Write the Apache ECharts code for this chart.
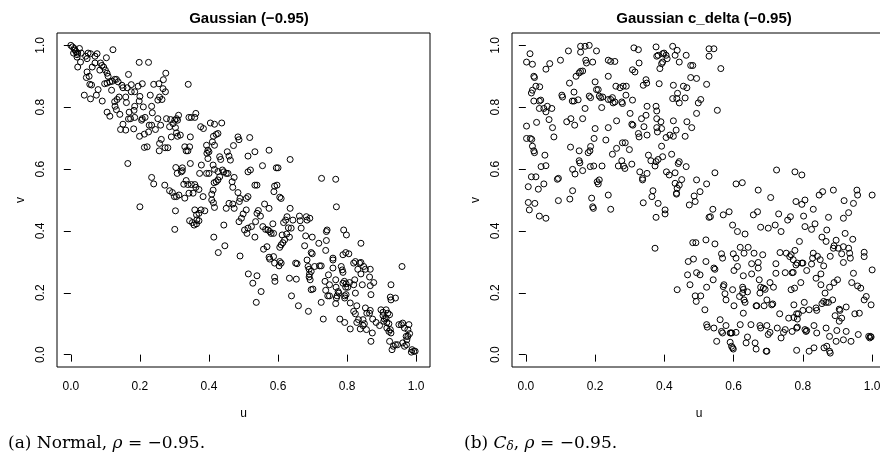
<!DOCTYPE html>
<html>
<head>
<meta charset="utf-8">
<script src="https://cdn.jsdelivr.net/npm/echarts@6/dist/echarts.min.js"></script>
<style>
html,body{margin:0;padding:0;background:#fff;}
#c{width:880px;height:452px;}
</style>
</head>
<body>
<div id="c"></div>
<script>
// ---------- DATA ----------
const titleLeft = "Gaussian (\u22120.95)";
const titleRight = "Gaussian c_delta (\u22120.95)";
const xName = "u";
const yName = "v";
const tickValues = [0, 0.2, 0.4, 0.6, 0.8, 1.0];

// Panel (a): Normal copula, rho = -0.95  [u, v]
const normalPoints = [
[0.0,1.0],[0.005,0.995],[0.01,0.99],[0.012,0.985],[0.015,0.98],[0.02,0.975],[0.025,0.99],[0.03,0.975],[0.008,0.975],[0.018,0.97],
[0.018,0.962],[0.028,0.946],[0.02,0.93],[0.043,0.965],[0.05,0.975],[0.057,0.973],[0.07,0.965],[0.076,0.973],[0.047,0.957],[0.122,0.986],
[0.103,0.96],[0.086,0.943],[0.09,0.935],[0.095,0.93],[0.084,0.92],[0.1,0.92],[0.07,0.943],[0.062,0.93],[0.047,0.914],[0.053,0.9],
[0.045,0.896],[0.055,0.874],[0.06,0.872],[0.105,0.91],[0.108,0.9],[0.198,0.945],[0.225,0.945],[0.167,0.906],[0.275,0.91],[0.268,0.889],
[0.098,0.876],[0.105,0.878],[0.113,0.882],[0.12,0.884],[0.127,0.89],[0.132,0.89],[0.137,0.882],[0.148,0.871],[0.151,0.863],[0.163,0.863],
[0.175,0.873],[0.195,0.868],[0.207,0.876],[0.24,0.874],[0.255,0.876],[0.34,0.874],[0.267,0.86],[0.274,0.85],[0.118,0.855],[0.175,0.85],
[0.185,0.85],[0.23,0.839],[0.257,0.833],[0.264,0.825],[0.252,0.823],[0.039,0.839],[0.057,0.827],[0.079,0.857],[0.074,0.839],[0.091,0.82],
[0.127,0.818],[0.134,0.825],[0.14,0.833],[0.159,0.833],[0.161,0.815],[0.2,0.835],[0.198,0.82],[0.128,0.803],[0.132,0.792],[0.142,0.777],
[0.169,0.784],[0.173,0.763],[0.167,0.762],[0.185,0.803],[0.183,0.79],[0.21,0.801],[0.234,0.803],[0.236,0.782],[0.105,0.784],[0.113,0.771],
[0.185,0.767],[0.182,0.73],[0.207,0.763],[0.215,0.767],[0.205,0.758],[0.227,0.742],[0.234,0.742],[0.252,0.763],[0.26,0.742],[0.277,0.763],
[0.289,0.76],[0.296,0.747],[0.151,0.745],[0.144,0.728],[0.159,0.726],[0.199,0.706],[0.213,0.713],[0.225,0.72],[0.245,0.728],[0.213,0.67],
[0.221,0.672],[0.262,0.696],[0.257,0.683],[0.256,0.659],[0.273,0.669],[0.281,0.669],[0.303,0.734],[0.306,0.717],[0.309,0.706],[0.286,0.737],
[0.291,0.704],[0.312,0.774],[0.306,0.763],[0.309,0.758],[0.317,0.71],[0.342,0.767],[0.349,0.767],[0.362,0.78],[0.359,0.767],[0.346,0.704],
[0.301,0.758],[0.165,0.618],[0.234,0.573],[0.24,0.552],[0.2,0.478],[0.304,0.605],[0.308,0.586],[0.32,0.591],[0.323,0.595],[0.272,0.548],
[0.286,0.53],[0.294,0.524],[0.3,0.511],[0.306,0.511],[0.313,0.516],[0.33,0.672],[0.334,0.659],[0.339,0.659],[0.344,0.672],[0.346,0.618],
[0.334,0.563],[0.327,0.551],[0.339,0.55],[0.349,0.55],[0.359,0.55],[0.33,0.506],[0.323,0.604],[0.342,0.522],[0.354,0.522],[0.371,0.534],
[0.362,0.541],[0.303,0.465],[0.301,0.405],[0.344,0.433],[0.352,0.427],[0.357,0.419],[0.364,0.423],[0.359,0.468],[0.364,0.452],[0.371,0.457],
[0.377,0.468],[0.365,0.436],[0.371,0.433],[0.378,0.613],[0.383,0.511],[0.388,0.465],[0.373,0.586],[0.384,0.731],[0.376,0.737],[0.393,0.677],
[0.397,0.661],[0.4,0.656],[0.394,0.651],[0.397,0.634],[0.393,0.586],[0.4,0.586],[0.404,0.749],[0.416,0.745],[0.41,0.688],[0.416,0.677],
[0.413,0.706],[0.421,0.712],[0.426,0.715],[0.437,0.749],[0.412,0.613],[0.416,0.599],[0.426,0.592],[0.421,0.559],[0.415,0.556],[0.412,0.532],
[0.408,0.519],[0.416,0.476],[0.413,0.491],[0.408,0.5],[0.431,0.64],[0.434,0.631],[0.439,0.597],[0.443,0.591],[0.45,0.586],[0.455,0.586],
[0.431,0.575],[0.426,0.565],[0.453,0.656],[0.458,0.642],[0.462,0.629],[0.443,0.419],[0.414,0.38],[0.446,0.352],[0.427,0.33],[0.45,0.473],
[0.458,0.489],[0.469,0.487],[0.473,0.473],[0.467,0.559],[0.469,0.541],[0.473,0.573],[0.471,0.676],[0.484,0.704],[0.487,0.695],[0.484,0.524],
[0.49,0.505],[0.488,0.495],[0.487,0.43],[0.494,0.441],[0.499,0.455],[0.508,0.468],[0.508,0.505],[0.513,0.511],[0.513,0.642],[0.518,0.702],
[0.513,0.591],[0.52,0.597],[0.533,0.656],[0.49,0.319],[0.51,0.392],[0.513,0.409],[0.523,0.414],[0.533,0.38],[0.514,0.261],[0.527,0.231],
[0.539,0.255],[0.551,0.204],[0.537,0.169],[0.533,0.548],[0.539,0.548],[0.539,0.457],[0.543,0.466],[0.549,0.448],[0.561,0.487],[0.535,0.43],
[0.555,0.611],[0.574,0.661],[0.556,0.414],[0.564,0.405],[0.571,0.403],[0.576,0.398],[0.58,0.392],[0.558,0.341],[0.568,0.349],[0.574,0.315],
[0.576,0.309],[0.574,0.473],[0.595,0.604],[0.6,0.604],[0.59,0.545],[0.597,0.548],[0.588,0.527],[0.605,0.509],[0.609,0.505],[0.585,0.423],
[0.587,0.392],[0.587,0.317],[0.59,0.296],[0.59,0.25],[0.591,0.237],[0.605,0.347],[0.609,0.355],[0.614,0.362],[0.619,0.371],[0.605,0.301],
[0.603,0.287],[0.609,0.296],[0.616,0.427],[0.622,0.435],[0.626,0.446],[0.612,0.387],[0.635,0.631],[0.635,0.473],[0.638,0.409],[0.633,0.38],
[0.633,0.247],[0.639,0.19],[0.643,0.435],[0.651,0.296],[0.655,0.294],[0.653,0.244],[0.659,0.158],[0.662,0.448],[0.664,0.433],[0.667,0.409],
[0.682,0.446],[0.684,0.435],[0.692,0.441],[0.68,0.384],[0.677,0.352],[0.684,0.306],[0.687,0.285],[0.69,0.276],[0.696,0.269],[0.69,0.251],
[0.693,0.242],[0.691,0.26],[0.696,0.33],[0.699,0.326],[0.696,0.21],[0.701,0.212],[0.688,0.14],[0.699,0.38],[0.706,0.285],[0.718,0.36],
[0.72,0.287],[0.725,0.287],[0.726,0.57],[0.725,0.169],[0.731,0.115],[0.738,0.337],[0.74,0.369],[0.74,0.398],[0.742,0.403],[0.736,0.237],
[0.738,0.208],[0.746,0.258],[0.749,0.226],[0.744,0.19],[0.749,0.19],[0.759,0.312],[0.759,0.306],[0.759,0.28],[0.767,0.567],[0.769,0.478],
[0.767,0.242],[0.768,0.218],[0.771,0.19],[0.769,0.183],[0.767,0.165],[0.774,0.204],[0.776,0.199],[0.779,0.115],[0.783,0.285],[0.786,0.274],
[0.788,0.323],[0.796,0.33],[0.788,0.266],[0.79,0.403],[0.798,0.387],[0.792,0.237],[0.788,0.231],[0.797,0.229],[0.796,0.218],[0.793,0.19],
[0.797,0.194],[0.793,0.183],[0.793,0.104],[0.805,0.326],[0.807,0.233],[0.802,0.218],[0.809,0.167],[0.809,0.083],[0.819,0.296],[0.824,0.301],
[0.822,0.242],[0.819,0.226],[0.824,0.199],[0.819,0.14],[0.824,0.132],[0.831,0.276],[0.836,0.296],[0.84,0.298],[0.828,0.158],[0.833,0.113],
[0.828,0.104],[0.84,0.36],[0.84,0.261],[0.844,0.226],[0.838,0.083],[0.846,0.113],[0.85,0.1],[0.846,0.094],[0.848,0.285],[0.853,0.276],
[0.853,0.151],[0.857,0.134],[0.856,0.081],[0.867,0.276],[0.865,0.251],[0.867,0.223],[0.869,0.194],[0.867,0.143],[0.865,0.134],[0.873,0.07],
[0.869,0.043],[0.874,0.115],[0.877,0.233],[0.884,0.104],[0.894,0.094],[0.898,0.145],[0.904,0.137],[0.904,0.126],[0.908,0.115],[0.906,0.108],
[0.913,0.145],[0.918,0.134],[0.923,0.129],[0.913,0.118],[0.915,0.104],[0.921,0.1],[0.915,0.086],[0.921,0.075],[0.925,0.081],[0.925,0.186],
[0.927,0.177],[0.927,0.226],[0.927,0.07],[0.923,0.043],[0.93,0.016],[0.934,0.027],[0.94,0.183],[0.94,0.032],[0.946,0.032],[0.95,0.097],
[0.957,0.097],[0.959,0.285],[0.961,0.102],[0.966,0.086],[0.961,0.038],[0.966,0.027],[0.972,0.032],[0.971,0.059],[0.973,0.048],[0.976,0.081],
[0.979,0.097],[0.976,0.059],[0.981,0.068],[0.988,0.016],[0.993,0.011],[0.997,0.011],[0.986,0.008],[0.625,0.39],[0.63,0.41],[0.503,0.403]
];

// Panel (b): C_delta, rho = -0.95  [u, v]
const cdeltaPoints = [
[0.002,0.946],[0.012,0.973],[0.019,0.939],[0.023,0.9],[0.025,0.896],[0.016,0.846],[0.019,0.855],[0.029,0.868],[0.04,0.866],[0.023,0.82],
[0.039,0.82],[0.043,0.823],[0.039,0.796],[0.052,0.796],[0.058,0.785],[0.062,0.803],[0.075,0.796],[0.002,0.739],[0.031,0.751],[0.067,0.76],
[0.077,0.734],[0.002,0.699],[0.013,0.699],[0.017,0.696],[0.019,0.674],[0.023,0.659],[0.025,0.653],[0.081,0.704],[0.055,0.645],[0.044,0.608],
[0.058,0.611],[0.016,0.575],[0.029,0.575],[0.007,0.543],[0.036,0.535],[0.052,0.552],[0.007,0.492],[0.026,0.489],[0.01,0.468],[0.039,0.448],
[0.058,0.441],[0.069,0.941],[0.058,0.923],[0.1,0.952],[0.123,0.982],[0.091,0.567],[0.094,0.57],[0.094,0.498],[0.104,0.839],[0.106,0.833],
[0.118,0.753],[0.13,0.763],[0.126,0.878],[0.139,0.849],[0.134,0.82],[0.139,0.82],[0.141,0.742],[0.151,0.824],[0.129,0.671],[0.135,0.599],
[0.142,0.584],[0.135,0.53],[0.127,0.503],[0.145,0.9],[0.154,0.911],[0.158,0.916],[0.164,0.917],[0.158,0.997],[0.171,0.997],[0.183,1.0],
[0.158,0.978],[0.173,0.952],[0.175,0.943],[0.193,0.946],[0.204,0.982],[0.164,0.763],[0.171,0.796],[0.154,0.659],[0.154,0.627],[0.156,0.62],
[0.164,0.595],[0.18,0.653],[0.185,0.659],[0.187,0.673],[0.183,0.836],[0.187,0.831],[0.186,0.608],[0.196,0.61],[0.19,0.506],[0.193,0.478],
[0.195,0.473],[0.197,0.699],[0.2,0.731],[0.2,0.882],[0.204,0.857],[0.209,0.857],[0.212,0.836],[0.216,0.831],[0.222,0.833],[0.219,0.799],
[0.206,0.559],[0.209,0.552],[0.212,0.565],[0.22,0.61],[0.231,0.694],[0.238,0.952],[0.245,0.948],[0.257,0.948],[0.238,0.9],[0.238,0.825],
[0.245,0.825],[0.25,0.831],[0.257,0.817],[0.252,0.814],[0.26,0.868],[0.272,0.863],[0.281,0.868],[0.277,0.817],[0.279,0.812],[0.238,0.734],
[0.262,0.756],[0.262,0.667],[0.25,0.648],[0.238,0.516],[0.245,0.47],[0.267,0.61],[0.277,0.627],[0.282,0.61],[0.286,0.602],[0.279,0.685],
[0.287,0.685],[0.29,0.868],[0.289,0.839],[0.308,0.823],[0.301,0.78],[0.306,0.745],[0.309,0.742],[0.299,0.663],[0.306,0.616],[0.312,0.992],
[0.325,0.986],[0.308,0.921],[0.315,0.914],[0.327,0.943],[0.325,0.715],[0.327,0.704],[0.329,0.591],[0.337,0.57],[0.337,0.565],[0.339,0.491],
[0.334,0.763],[0.339,0.871],[0.347,0.889],[0.349,0.878],[0.341,0.737],[0.347,0.774],[0.35,0.803],[0.35,0.71],[0.354,0.645],[0.35,0.586],
[0.361,0.627],[0.367,0.53],[0.364,0.511],[0.373,0.61],[0.376,0.624],[0.373,0.344],[0.376,0.803],[0.378,0.788],[0.378,0.763],[0.378,0.734],
[0.38,0.72],[0.376,0.995],[0.378,0.965],[0.382,0.968],[0.376,0.444],[0.382,0.489],[0.382,0.631],[0.387,0.925],[0.392,0.941],[0.395,0.946],
[0.385,0.876],[0.39,0.753],[0.392,0.731],[0.395,0.973],[0.399,0.975],[0.405,0.968],[0.392,0.674],[0.395,0.64],[0.402,0.468],[0.402,0.455],
[0.405,0.702],[0.408,0.957],[0.406,0.591],[0.414,0.581],[0.416,0.71],[0.421,0.648],[0.424,0.997],[0.426,0.871],[0.424,0.828],[0.426,0.756],
[0.426,0.706],[0.431,0.588],[0.431,0.554],[0.431,0.968],[0.437,0.984],[0.436,0.828],[0.438,0.845],[0.434,0.726],[0.437,0.538],[0.435,0.522],
[0.435,0.519],[0.44,0.618],[0.443,0.624],[0.443,0.946],[0.443,0.814],[0.443,0.548],[0.45,0.566],[0.455,0.868],[0.46,0.83],[0.465,0.863],
[0.46,0.706],[0.463,0.968],[0.465,0.753],[0.463,0.608],[0.476,0.935],[0.482,0.935],[0.476,0.896],[0.479,0.734],[0.472,0.484],[0.486,0.513],
[0.489,0.495],[0.493,0.893],[0.493,0.78],[0.493,0.565],[0.498,0.814],[0.505,0.825],[0.503,0.527],[0.522,0.874],[0.522,0.552],[0.529,0.989],
[0.529,0.965],[0.543,0.989],[0.546,0.588],[0.54,0.47],[0.553,0.79],[0.563,0.925],
[0.437,0.21],[0.467,0.258],[0.474,0.226],[0.469,0.301],[0.484,0.309],[0.482,0.362],[0.491,0.362],[0.489,0.19],[0.492,0.172],[0.493,0.265],
[0.503,0.258],[0.505,0.19],[0.517,0.145],[0.52,0.301],[0.52,0.371],[0.522,0.218],[0.522,0.097],[0.524,0.089],[0.529,0.444],[0.533,0.446],
[0.541,0.242],[0.543,0.28],[0.546,0.276],[0.543,0.086],[0.546,0.358],[0.551,0.043],[0.561,0.113],[0.565,0.075],[0.568,0.07],[0.565,0.326],
[0.568,0.312],[0.57,0.22],[0.57,0.452],[0.572,0.226],[0.575,0.197],[0.578,0.177],[0.578,0.094],[0.587,0.462],[0.59,0.07],[0.592,0.07],
[0.595,0.07],[0.59,0.04],[0.594,0.027],[0.599,0.018],[0.597,0.022],[0.597,0.21],[0.597,0.419],[0.599,0.326],[0.601,0.272],[0.601,0.158],
[0.607,0.552],[0.607,0.312],[0.611,0.285],[0.607,0.072],[0.611,0.398],[0.617,0.188],[0.619,0.347],[0.619,0.097],[0.625,0.556],[0.626,0.218],
[0.628,0.211],[0.626,0.199],[0.628,0.255],[0.628,0.134],[0.63,0.177],[0.633,0.169],[0.633,0.39],[0.63,0.328],[0.636,0.038],[0.64,0.203],
[0.642,0.347],[0.64,0.057],[0.65,0.097],[0.652,0.294],[0.652,0.261],[0.657,0.452],[0.659,0.328],[0.662,0.038],[0.665,0.018],[0.665,0.158],
[0.667,0.158],[0.669,0.462],[0.671,0.532],[0.671,0.298],[0.671,0.28],[0.674,0.242],[0.676,0.199],[0.678,0.218],[0.676,0.094],[0.678,0.086],
[0.678,0.412],[0.684,0.323],[0.686,0.215],[0.691,0.211],[0.688,0.158],[0.694,0.011],[0.696,0.011],[0.696,0.177],[0.696,0.094],[0.7,0.409],
[0.7,0.065],[0.705,0.233],[0.707,0.508],[0.71,0.161],[0.713,0.164],[0.705,0.072],[0.715,0.218],[0.72,0.419],[0.722,0.294],[0.722,0.263],
[0.724,0.597],[0.726,0.086],[0.73,0.455],[0.733,0.132],[0.734,0.33],[0.737,0.398],[0.737,0.054],[0.744,0.072],[0.749,0.265],[0.749,0.081],
[0.752,0.328],[0.756,0.435],[0.759,0.118],[0.762,0.317],[0.766,0.323],[0.764,0.446],[0.766,0.21],[0.769,0.265],[0.772,0.266],[0.769,0.075],
[0.772,0.307],[0.774,0.161],[0.774,0.12],[0.776,0.215],[0.777,0.591],[0.777,0.337],[0.78,0.29],[0.784,0.296],[0.78,0.495],[0.782,0.132],
[0.787,0.132],[0.782,0.086],[0.784,0.089],[0.782,0.014],[0.784,0.115],[0.79,0.366],[0.794,0.233],[0.797,0.581],[0.797,0.296],[0.8,0.296],
[0.797,0.486],[0.806,0.5],[0.8,0.143],[0.802,0.448],[0.804,0.169],[0.806,0.414],[0.806,0.081],[0.809,0.075],[0.811,0.078],[0.811,0.272],
[0.818,0.145],[0.818,0.011],[0.825,0.405],[0.825,0.293],[0.828,0.312],[0.83,0.47],[0.83,0.328],[0.832,0.094],[0.832,0.022],[0.835,0.423],
[0.838,0.247],[0.838,0.151],[0.84,0.143],[0.84,0.07],[0.842,0.318],[0.847,0.516],[0.85,0.307],[0.852,0.261],[0.852,0.226],[0.855,0.165],
[0.86,0.172],[0.857,0.527],[0.855,0.38],[0.86,0.287],[0.861,0.022],[0.864,0.199],[0.867,0.366],[0.867,0.169],[0.867,0.086],[0.869,0.403],
[0.869,0.027],[0.874,0.444],[0.874,0.169],[0.877,0.218],[0.877,0.011],[0.879,0.005],[0.879,0.318],[0.877,0.059],[0.886,0.177],[0.888,0.532],
[0.888,0.344],[0.89,0.352],[0.89,0.233],[0.893,0.126],[0.896,0.37],[0.896,0.043],[0.898,0.078],[0.9,0.242],[0.902,0.344],[0.905,0.147],
[0.907,0.143],[0.905,0.108],[0.912,0.326],[0.912,0.118],[0.917,0.441],[0.917,0.349],[0.917,0.298],[0.919,0.498],[0.917,0.048],[0.922,0.392],
[0.925,0.154],[0.925,0.075],[0.932,0.344],[0.932,0.459],[0.935,0.328],[0.937,0.312],[0.939,0.043],[0.941,0.233],[0.944,0.373],[0.946,0.489],
[0.946,0.263],[0.95,0.132],[0.956,0.532],[0.958,0.516],[0.958,0.222],[0.96,0.065],[0.963,0.134],[0.967,0.215],[0.977,0.331],[0.977,0.317],
[0.977,0.177],[0.983,0.188],[0.99,0.059],[0.993,0.054],[0.995,0.059],[0.997,0.057],[0.997,0.161],[1.0,0.274],[1.0,0.516]
];

// ---------- CHART ----------
const chart = echarts.init(document.getElementById('c'), null, {renderer: 'canvas'});
const sans = "'Liberation Sans', Arial, Helvetica, sans-serif";
const serif = "'DejaVu Serif', 'Liberation Serif', serif";

function xAxisFor(gi) {
  return {
    gridIndex: gi, type: 'value', min: -0.04, max: 1.04,
    name: xName, nameLocation: 'middle', nameGap: 41,
    nameTextStyle: {fontFamily: sans, fontSize: 12, color: '#000'},
    axisLine: {show: false},
    axisTick: {show: true, inside: false, length: 7, customValues: tickValues, lineStyle: {color: '#000', width: 1}},
    axisLabel: {show: true, customValues: tickValues, margin: 14, fontFamily: sans, fontSize: 12, color: '#000',
      formatter: v => v.toFixed(1)},
    splitLine: {show: false}
  };
}
function yAxisFor(gi) {
  return {
    gridIndex: gi, type: 'value', min: -0.04, max: 1.04,
    name: yName, nameLocation: 'middle', nameGap: 30, nameRotate: 90,
    nameTextStyle: {fontFamily: sans, fontSize: 12, color: '#000'},
    axisLine: {show: false},
    axisTick: {show: true, inside: false, length: 7, customValues: tickValues, lineStyle: {color: '#000', width: 1}},
    axisLabel: {show: true, customValues: tickValues, rotate: 90, margin: 10, fontFamily: sans, fontSize: 12, color: '#000',
      formatter: v => v.toFixed(1)},
    splitLine: {show: false}
  };
}
function scatterFor(gi, data) {
  return {
    type: 'scatter', xAxisIndex: gi, yAxisIndex: gi, data: data,
    symbol: 'circle', symbolSize: 6,
    itemStyle: {color: 'rgba(0,0,0,0)', borderColor: '#000', borderWidth: 1, opacity: 1},
    emphasis: {disabled: true}, animation: false, silent: true, clip: false
  };
}

const capStyle = {
  n: {fontFamily: serif, fontSize: 17, fontWeight: 'normal', color: '#000'},
  i: {fontFamily: serif, fontSize: 17, fontWeight: 'normal', fontStyle: 'italic', color: '#000'},
  s: {fontFamily: serif, fontSize: 12, fontWeight: 'normal', fontStyle: 'italic', color: '#000', verticalAlign: 'bottom', padding: [6, 0, 0, 0]}
};

const option = {
  backgroundColor: '#fff',
  animation: false,
  title: [
    {text: titleLeft, left: 244, top: 6, textAlign: 'center',
      textStyle: {fontFamily: sans, fontSize: 15, fontWeight: 'bold', color: '#000'}},
    {text: titleRight, left: 699, top: 6, textAlign: 'center',
      textStyle: {fontFamily: sans, fontSize: 15, fontWeight: 'bold', color: '#000'}},
    {text: '{n|(a) Normal, }{i|\u03C1}{n| = \u22120.95.}', left: 3, top: 430,
      textStyle: {fontWeight: 'normal', rich: capStyle}},
    {text: '{n|(b) }{i|C}{s|\u03B4}{n|, }{i|\u03C1}{n| = \u22120.95.}', left: 459, top: 430,
      textStyle: {fontWeight: 'normal', rich: capStyle}}
  ],
  grid: [
    {left: 57, top: 33, width: 373, height: 334, show: true, borderColor: '#000', borderWidth: 1, backgroundColor: 'transparent', outerBoundsMode: 'none'},
    {left: 512, top: 33, width: 374, height: 334, show: true, borderColor: '#000', borderWidth: 1, backgroundColor: 'transparent', outerBoundsMode: 'none'}
  ],
  xAxis: [xAxisFor(0), xAxisFor(1)],
  yAxis: [yAxisFor(0), yAxisFor(1)],
  series: [scatterFor(0, normalPoints), scatterFor(1, cdeltaPoints)]
};
chart.setOption(option);
</script>
</body>
</html>
